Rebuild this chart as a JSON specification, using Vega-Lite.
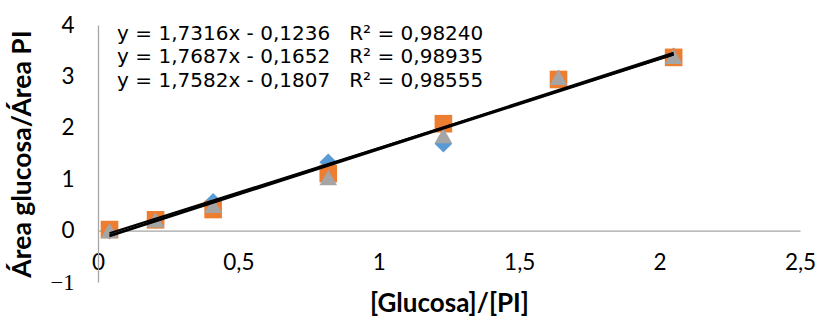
{
  "$schema": "https://vega.github.io/schema/vega-lite/v6.json",
  "width": 702,
  "height": 257,
  "autosize": {"type": "none"},
  "padding": {"left": 98, "top": 25, "right": 20, "bottom": 39},
  "background": "white",
  "config": {"view": {"stroke": null}, "font": "Lato"},
  "datasets": {
    "puntos": [
      {"serie": "1", "x": 0.041, "y": 0.0},
      {"serie": "1", "x": 0.205, "y": 0.2},
      {"serie": "1", "x": 0.41, "y": 0.56},
      {"serie": "1", "x": 0.82, "y": 1.33},
      {"serie": "1", "x": 1.23, "y": 1.69},
      {"serie": "1", "x": 1.64, "y": 2.96},
      {"serie": "1", "x": 2.05, "y": 3.39},
      {"serie": "2", "x": 0.041, "y": 0.02},
      {"serie": "2", "x": 0.205, "y": 0.21},
      {"serie": "2", "x": 0.41, "y": 0.41},
      {"serie": "2", "x": 0.82, "y": 1.11},
      {"serie": "2", "x": 1.23, "y": 2.08},
      {"serie": "2", "x": 1.64, "y": 2.94},
      {"serie": "2", "x": 2.05, "y": 3.37},
      {"serie": "3", "x": 0.041, "y": 0.0},
      {"serie": "3", "x": 0.205, "y": 0.21},
      {"serie": "3", "x": 0.41, "y": 0.49},
      {"serie": "3", "x": 0.82, "y": 1.03},
      {"serie": "3", "x": 1.23, "y": 1.85},
      {"serie": "3", "x": 1.64, "y": 2.98},
      {"serie": "3", "x": 2.05, "y": 3.39}
    ],
    "tendencias": [
      {"serie": "1", "x": 0.041, "y": -0.0526},
      {"serie": "1", "x": 2.05, "y": 3.4262},
      {"serie": "2", "x": 0.041, "y": -0.0927},
      {"serie": "2", "x": 2.05, "y": 3.4606},
      {"serie": "3", "x": 0.041, "y": -0.1086},
      {"serie": "3", "x": 2.05, "y": 3.4236}
    ],
    "ecuaciones": [
      {"x": 0.068, "y": 3.716, "texto": "y = 1,7316x - 0,1236\u00a0\u00a0\u00a0R² = 0,98240"},
      {"x": 0.068, "y": 3.259, "texto": "y = 1,7687x - 0,1652\u00a0\u00a0\u00a0R² = 0,98935"},
      {"x": 0.068, "y": 2.802, "texto": "y = 1,7582x - 0,1807\u00a0\u00a0\u00a0R² = 0,98555"}
    ]
  },
  "encoding": {
    "x": {
      "field": "x",
      "type": "quantitative",
      "scale": {"domain": [0, 2.5], "nice": false, "zero": false},
      "axis": {
        "orient": "bottom",
        "offset": -51.4,
        "domainColor": "#A6A6A6",
        "domainWidth": 1.3,
        "ticks": false,
        "grid": false,
        "values": [0, 0.5, 1, 1.5, 2, 2.5],
        "labelExpr": "replace(toString(datum.value), '.', ',')",
        "labelFontSize": 22.5,
        "labelColor": "black",
        "labelPadding": 21,
        "labelOverlap": false,
        "labelBound": false,
        "labelFlush": false,
        "title": "[Glucosa]/[PI]",
        "titleFontSize": 26,
        "titleFontWeight": "bold",
        "titleColor": "black",
        "titlePadding": 16
      }
    },
    "y": {
      "field": "y",
      "type": "quantitative",
      "scale": {"domain": [-1, 4], "nice": false, "zero": false},
      "axis": {
        "domainColor": "#A6A6A6",
        "domainWidth": 1.3,
        "ticks": false,
        "grid": false,
        "values": [-1, 0, 1, 2, 3, 4],
        "labelFontSize": 22.5,
        "labelColor": "black",
        "labelFont": {"condition": {"test": "datum.value < 0", "value": "Liberation Serif"}, "value": "Lato"},
        "labelPadding": 24,
        "labelOverlap": false,
        "labelFlush": false,
        "title": "Área glucosa/Área PI",
        "titleFontSize": 26.5,
        "titleFontWeight": "bold",
        "titleColor": "black",
        "titlePadding": 14
      }
    }
  },
  "layer": [
    {
      "data": {"name": "puntos"},
      "mark": {"type": "point", "filled": true, "opacity": 1, "size": 310},
      "encoding": {
        "color": {
          "field": "serie",
          "type": "nominal",
          "scale": {"domain": ["1", "2", "3"], "range": ["#5B9BD5", "#ED7D31", "#A5A5A5"]},
          "legend": null
        },
        "shape": {
          "field": "serie",
          "type": "nominal",
          "scale": {"domain": ["1", "2", "3"], "range": ["diamond", "square", "triangle-up"]},
          "legend": null
        }
      }
    },
    {
      "data": {"name": "tendencias"},
      "mark": {"type": "line", "color": "black", "strokeWidth": 2},
      "encoding": {"detail": {"field": "serie", "type": "nominal"}}
    },
    {
      "data": {"name": "ecuaciones"},
      "mark": {"type": "text", "align": "left", "baseline": "alphabetic", "fontSize": 20, "font": "DejaVu Sans", "color": "black"},
      "encoding": {"text": {"field": "texto", "type": "nominal"}}
    }
  ]
}
